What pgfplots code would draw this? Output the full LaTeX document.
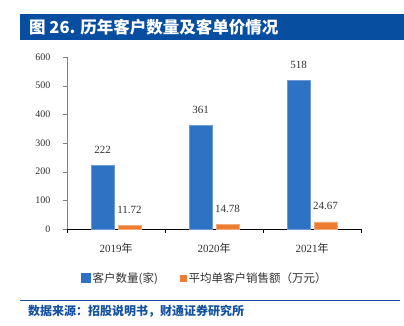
\documentclass[border=0pt]{standalone}
\usepackage{fontspec}
\setmainfont{Liberation Serif}
\newfontfamily\cjk{Noto Sans CJK SC}
\usepackage{pgfplots}
\pgfplotsset{compat=1.18}
\definecolor{cblue}{RGB}{46,114,196}
\definecolor{cblueedge}{RGB}{110,155,215}
\definecolor{corange}{RGB}{237,125,49}
\definecolor{corangeedge}{RGB}{245,170,120}
\definecolor{tblue}{RGB}{8,78,160}
\definecolor{sblue}{RGB}{20,82,160}
\definecolor{lbl}{RGB}{50,50,50}
\begin{document}
\begin{tikzpicture}
\useasboundingbox (0pt,0pt) rectangle (404pt,325pt);
\fill[white] (0pt,0pt) rectangle (404pt,325pt);
\fill[tblue] (20pt,285pt) rectangle (404pt,311pt);
\node[anchor=west, text=white, font=\cjk\bfseries\fontsize{16.5}{19}\selectfont, inner sep=0pt] at (29pt,298pt) {图 26. 历年客户数量及客单价情况};
\draw[sblue, line width=1pt] (20pt,25pt) -- (400pt,25pt);
\node[anchor=west, text=sblue, font=\cjk\bfseries\fontsize{12}{14}\selectfont, inner sep=0pt] at (28pt,14pt) {数据来源：招股说明书，财通证券研究所};
\begin{axis}[
  at={(67pt,96pt)}, anchor=south west,
  width=294pt, height=172pt, scale only axis,
  xmin=-0.5, xmax=2.5, ymin=0, ymax=600,
  ytick={0,100,...,600},
  xtick={-0.5,0.5,1.5,2.5}, xticklabels={},
  extra x ticks={0,1,2},
  extra x tick labels={2019{\cjk 年},2020{\cjk 年},2021{\cjk 年}},
  extra x tick style={major tick length=0pt, tick label style={font=\fontsize{11}{13}\selectfont, text=lbl, yshift=-11pt}},
  axis x line*=bottom, axis y line*=left,
  x axis line style={black, -}, y axis line style={gray, -},
  tick align=outside, major tick length=4pt,
  xtick style={black}, ytick style={gray},
  yticklabel style={font=\fontsize{10}{12}\selectfont, text=lbl, xshift=-9pt},
  /pgf/number format/assume math mode=true,
  clip=false,
  legend style={at={(0.469,-0.285)}, anchor=center, draw=none, fill=none, legend columns=2,
    font=\cjk\fontsize{11.5}{13}\selectfont, text=lbl,
    /tikz/every even column/.append style={column sep=20pt}},
  legend cell align=left,
]
\addplot[ybar, bar width=23pt, bar shift=-13.5pt, fill=cblue, draw=cblueedge, line width=0.6pt,
  nodes near coords, nodes near coords style={font=\fontsize{11}{13}\selectfont, text=lbl, anchor=base, yshift=12pt, xshift=-13.5pt},
  legend image code/.code={\fill[cblue] (0pt,-4.5pt) rectangle (9pt,4.5pt);}]
  coordinates {(0,222) (1,361) (2,518)};
\addlegendentry{客户数量(家)}
\addplot[ybar, bar width=23pt, bar shift=13.5pt, fill=corange, draw=corangeedge, line width=0.6pt,
  nodes near coords, nodes near coords style={font=\fontsize{11}{13}\selectfont, text=lbl, anchor=base, yshift=12pt, xshift=13.5pt},
  legend image code/.code={\fill[corange] (1pt,-3pt) rectangle (7pt,3pt);}]
  coordinates {(0,11.72) (1,14.78) (2,24.67)};
\addlegendentry{平均单客户销售额（万元）}
\end{axis}
\end{tikzpicture}
\end{document}
